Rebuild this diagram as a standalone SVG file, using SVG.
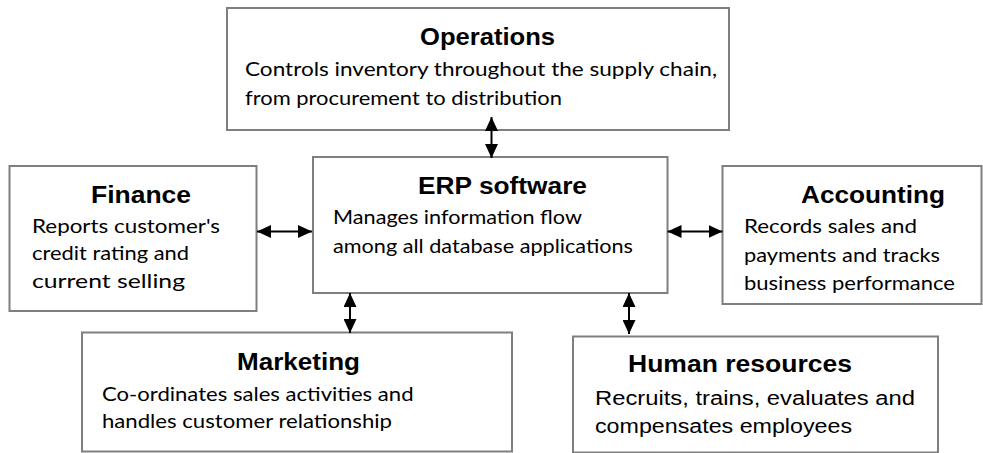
<svg xmlns="http://www.w3.org/2000/svg" width="983" height="453" viewBox="0 0 983 453">
<defs>
<style>
.box{fill:#ffffff;stroke:#7f7f7f;stroke-width:2}
.title{font-family:"Liberation Sans",Arial,sans-serif;font-weight:bold;font-size:23px;fill:#000;text-anchor:start}
.body{font-family:Lato,"Open Sans",sans-serif;font-size:20px;fill:#000}
.bodya{font-family:"Liberation Sans",Arial,sans-serif;font-size:20px;fill:#000}
.conn{stroke:#000;stroke-width:2;fill:none;marker-start:url(#ah);marker-end:url(#ah)}
</style>
<marker id="ah" viewBox="0 0 14 13" refX="14" refY="6.5" markerWidth="14" markerHeight="13" markerUnits="userSpaceOnUse" orient="auto-start-reverse">
<path d="M0,0 L14,6.5 L0,13 z" fill="#000"/>
</marker>
</defs>
<rect width="983" height="453" fill="#ffffff"/>

<g id="operations">
<rect class="box" x="227" y="8" width="502" height="122"/>
<text class="title" x="420" y="45" textLength="135" lengthAdjust="spacingAndGlyphs">Operations</text>
<text class="body" x="245" y="76" textLength="472" lengthAdjust="spacingAndGlyphs">Controls inventory throughout the supply chain,</text>
<text class="body" x="245" y="105" textLength="317" lengthAdjust="spacingAndGlyphs">from procurement to distribution</text>
</g>

<g id="erp">
<rect class="box" x="313" y="157" width="354.5" height="136"/>
<text class="title" x="418" y="194" textLength="169" lengthAdjust="spacingAndGlyphs">ERP software</text>
<text class="body" x="333" y="224" textLength="249" lengthAdjust="spacingAndGlyphs">Manages information flow</text>
<text class="body" x="333" y="253" textLength="300" lengthAdjust="spacingAndGlyphs">among all database applications</text>
</g>

<g id="finance">
<rect class="box" x="9.5" y="166" width="247" height="145"/>
<text class="title" x="91" y="203" textLength="100" lengthAdjust="spacingAndGlyphs">Finance</text>
<text class="body" x="32" y="232.5" textLength="188" lengthAdjust="spacingAndGlyphs">Reports customer's</text>
<text class="body" x="32" y="260" textLength="157" lengthAdjust="spacingAndGlyphs">credit rating and</text>
<text class="body" x="32" y="287.5" textLength="153" lengthAdjust="spacingAndGlyphs">current selling</text>
</g>

<g id="accounting">
<rect class="box" x="722.5" y="166" width="259" height="138"/>
<text class="title" x="801" y="203" textLength="144" lengthAdjust="spacingAndGlyphs">Accounting</text>
<text class="body" x="744" y="233" textLength="173" lengthAdjust="spacingAndGlyphs">Records sales and</text>
<text class="body" x="744" y="261.5" textLength="196" lengthAdjust="spacingAndGlyphs">payments and tracks</text>
<text class="body" x="744" y="289.5" textLength="211" lengthAdjust="spacingAndGlyphs">business performance</text>
</g>

<g id="marketing">
<rect class="box" x="82" y="332.5" width="430" height="119"/>
<text class="title" x="237" y="370" textLength="123" lengthAdjust="spacingAndGlyphs">Marketing</text>
<text class="body" x="102" y="400.5" textLength="311.5" lengthAdjust="spacingAndGlyphs">Co-ordinates sales activities and</text>
<text class="body" x="102" y="428" textLength="290" lengthAdjust="spacingAndGlyphs">handles customer relationship</text>
</g>

<g id="human-resources">
<rect class="box" x="573" y="336.5" width="365" height="116"/>
<text class="title" x="628" y="371.5" textLength="224" lengthAdjust="spacingAndGlyphs">Human resources</text>
<text class="bodya" x="595" y="405" textLength="320" lengthAdjust="spacingAndGlyphs">Recruits, trains, evaluates and</text>
<text class="bodya" x="595" y="433" textLength="257" lengthAdjust="spacingAndGlyphs">compensates employees</text>
</g>

<g id="connectors">
<line class="conn" x1="491.5" y1="117" x2="491.5" y2="158"/>
<line class="conn" x1="257" y1="231.5" x2="312" y2="231.5"/>
<line class="conn" x1="667.5" y1="231.5" x2="722.5" y2="231.5"/>
<line class="conn" x1="350" y1="293" x2="350" y2="333"/>
<line class="conn" x1="629" y1="293" x2="629" y2="334"/>
</g>
</svg>
